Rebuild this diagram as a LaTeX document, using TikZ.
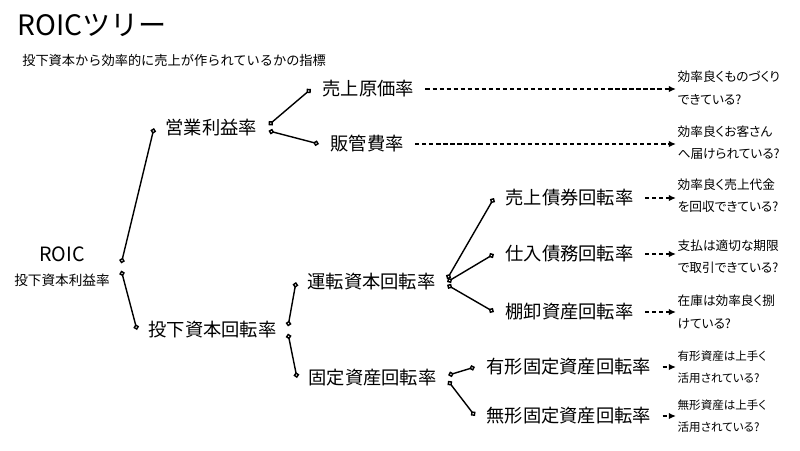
\documentclass[tikz,border=0pt]{standalone}
\usepackage{fontspec}
\setmainfont{Noto Sans CJK JP}
\newfontfamily\ansfont{Noto Sans CJK JP}[RawFeature=+palt]
\usetikzlibrary{arrows.meta,positioning}
\tikzset{
  ttl/.style={anchor=west, inner sep=0pt, font=\fontsize{20}{22}\selectfont},
  subttl/.style={anchor=west, inner sep=0pt, font=\fontsize{9.4}{11}\selectfont},
  lbl/.style={anchor=west, inner xsep=8pt, inner ysep=1pt, font=\fontsize{13}{15}\selectfont},
  ans/.style={anchor=west, align=left, inner sep=1pt, font=\ansfont\fontsize{9}{15.8}\selectfont},
  anss/.style={ans, font=\ansfont\fontsize{8.2}{15.4}\selectfont},
  link/.style={{Diamond[open,length=1.5mm,width=1.5mm]}-{Diamond[open,length=1.5mm,width=1.5mm]},
               line width=1pt},
  dasharr/.style={-{Latex[length=1.8mm,width=1.6mm]}, line width=1pt, dash pattern=on 3pt off 2pt},
}

\begin{document}
\begin{tikzpicture}[x=0.025cm,y=-0.025cm]
\useasboundingbox (0,0) rectangle (800,450);

% ================= heading =================
\node[ttl] (title) at (17,25) {ROICツリー};
\node[subttl] (subtitle) at (22,60) {投下資本から効率的に売上が作られているかの指標};

% ================= root =================
\node[align=center, inner xsep=8pt, font=\fontsize{9.7}{17}\selectfont] (roic) at (62,267)
  {{\fontsize{14}{17}\selectfont ROIC}\\投下資本利益率};

% ================= first level =================
\node[lbl] (ebit) at (154,128) {営業利益率};
\node[lbl] (ict)  at (137,330) {投下資本回転率};

% ================= second level =================
\node[lbl] (cogs) at (311,89)  {売上原価率};
\node[lbl] (sga)  at (319,144) {販管費率};
\node[lbl] (wct)  at (296,282) {運転資本回転率};
\node[lbl] (fat)  at (297,378) {固定資産回転率};

% ================= third level =================
\node[lbl] (art)  at (494,198) {売上債券回転率};
\node[lbl] (apt)  at (494,254) {仕入債務回転率};
\node[lbl] (invt) at (494,312) {棚卸資産回転率};
\node[lbl] (tft)  at (475,367) {有形固定資産回転率};
\node[lbl] (ift)  at (475,416) {無形固定資産回転率};

% ================= questions =================
\node[ans]  (q1) at (676,88)  {効率良くものづくり\\できている?};
\node[ans]  (q2) at (676,143) {効率良くお客さん\\へ届けられている?};
\node[ans]  (q3) at (676,196) {効率良く売上代金\\を回収できている?};
\node[ans]  (q4) at (676,257) {支払は適切な期限\\で取引できている?};
\node[ans]  (q5) at (676,312) {在庫は効率良く捌\\けている?};
\node[anss] (q6) at (676,367) {有形資産は上手く\\活用されている?};
\node[anss] (q7) at (676,416) {無形資産は上手く\\活用されている?};

% ================= tree links =================
\foreach \a/\b/\s in {roic/ebit/2.5, roic/ict/-2.5, ebit/cogs/2, ebit/sga/-2,
                      ict/wct/2.5, ict/fat/-2.5, wct/art/2, wct/apt/0, wct/invt/-2,
                      fat/tft/2, fat/ift/-2}
  {\draw[link] ([yshift=\s pt]\a.east) -- (\b.west);}

% ================= dashed pointers =================
\foreach \a/\b in {cogs/q1, sga/q2, art/q3, apt/q4, invt/q5, tft/q6, ift/q7}
  {\draw[dasharr] (\a.east) -- (\a.east -| \b.west);}

\end{tikzpicture}
\end{document}
